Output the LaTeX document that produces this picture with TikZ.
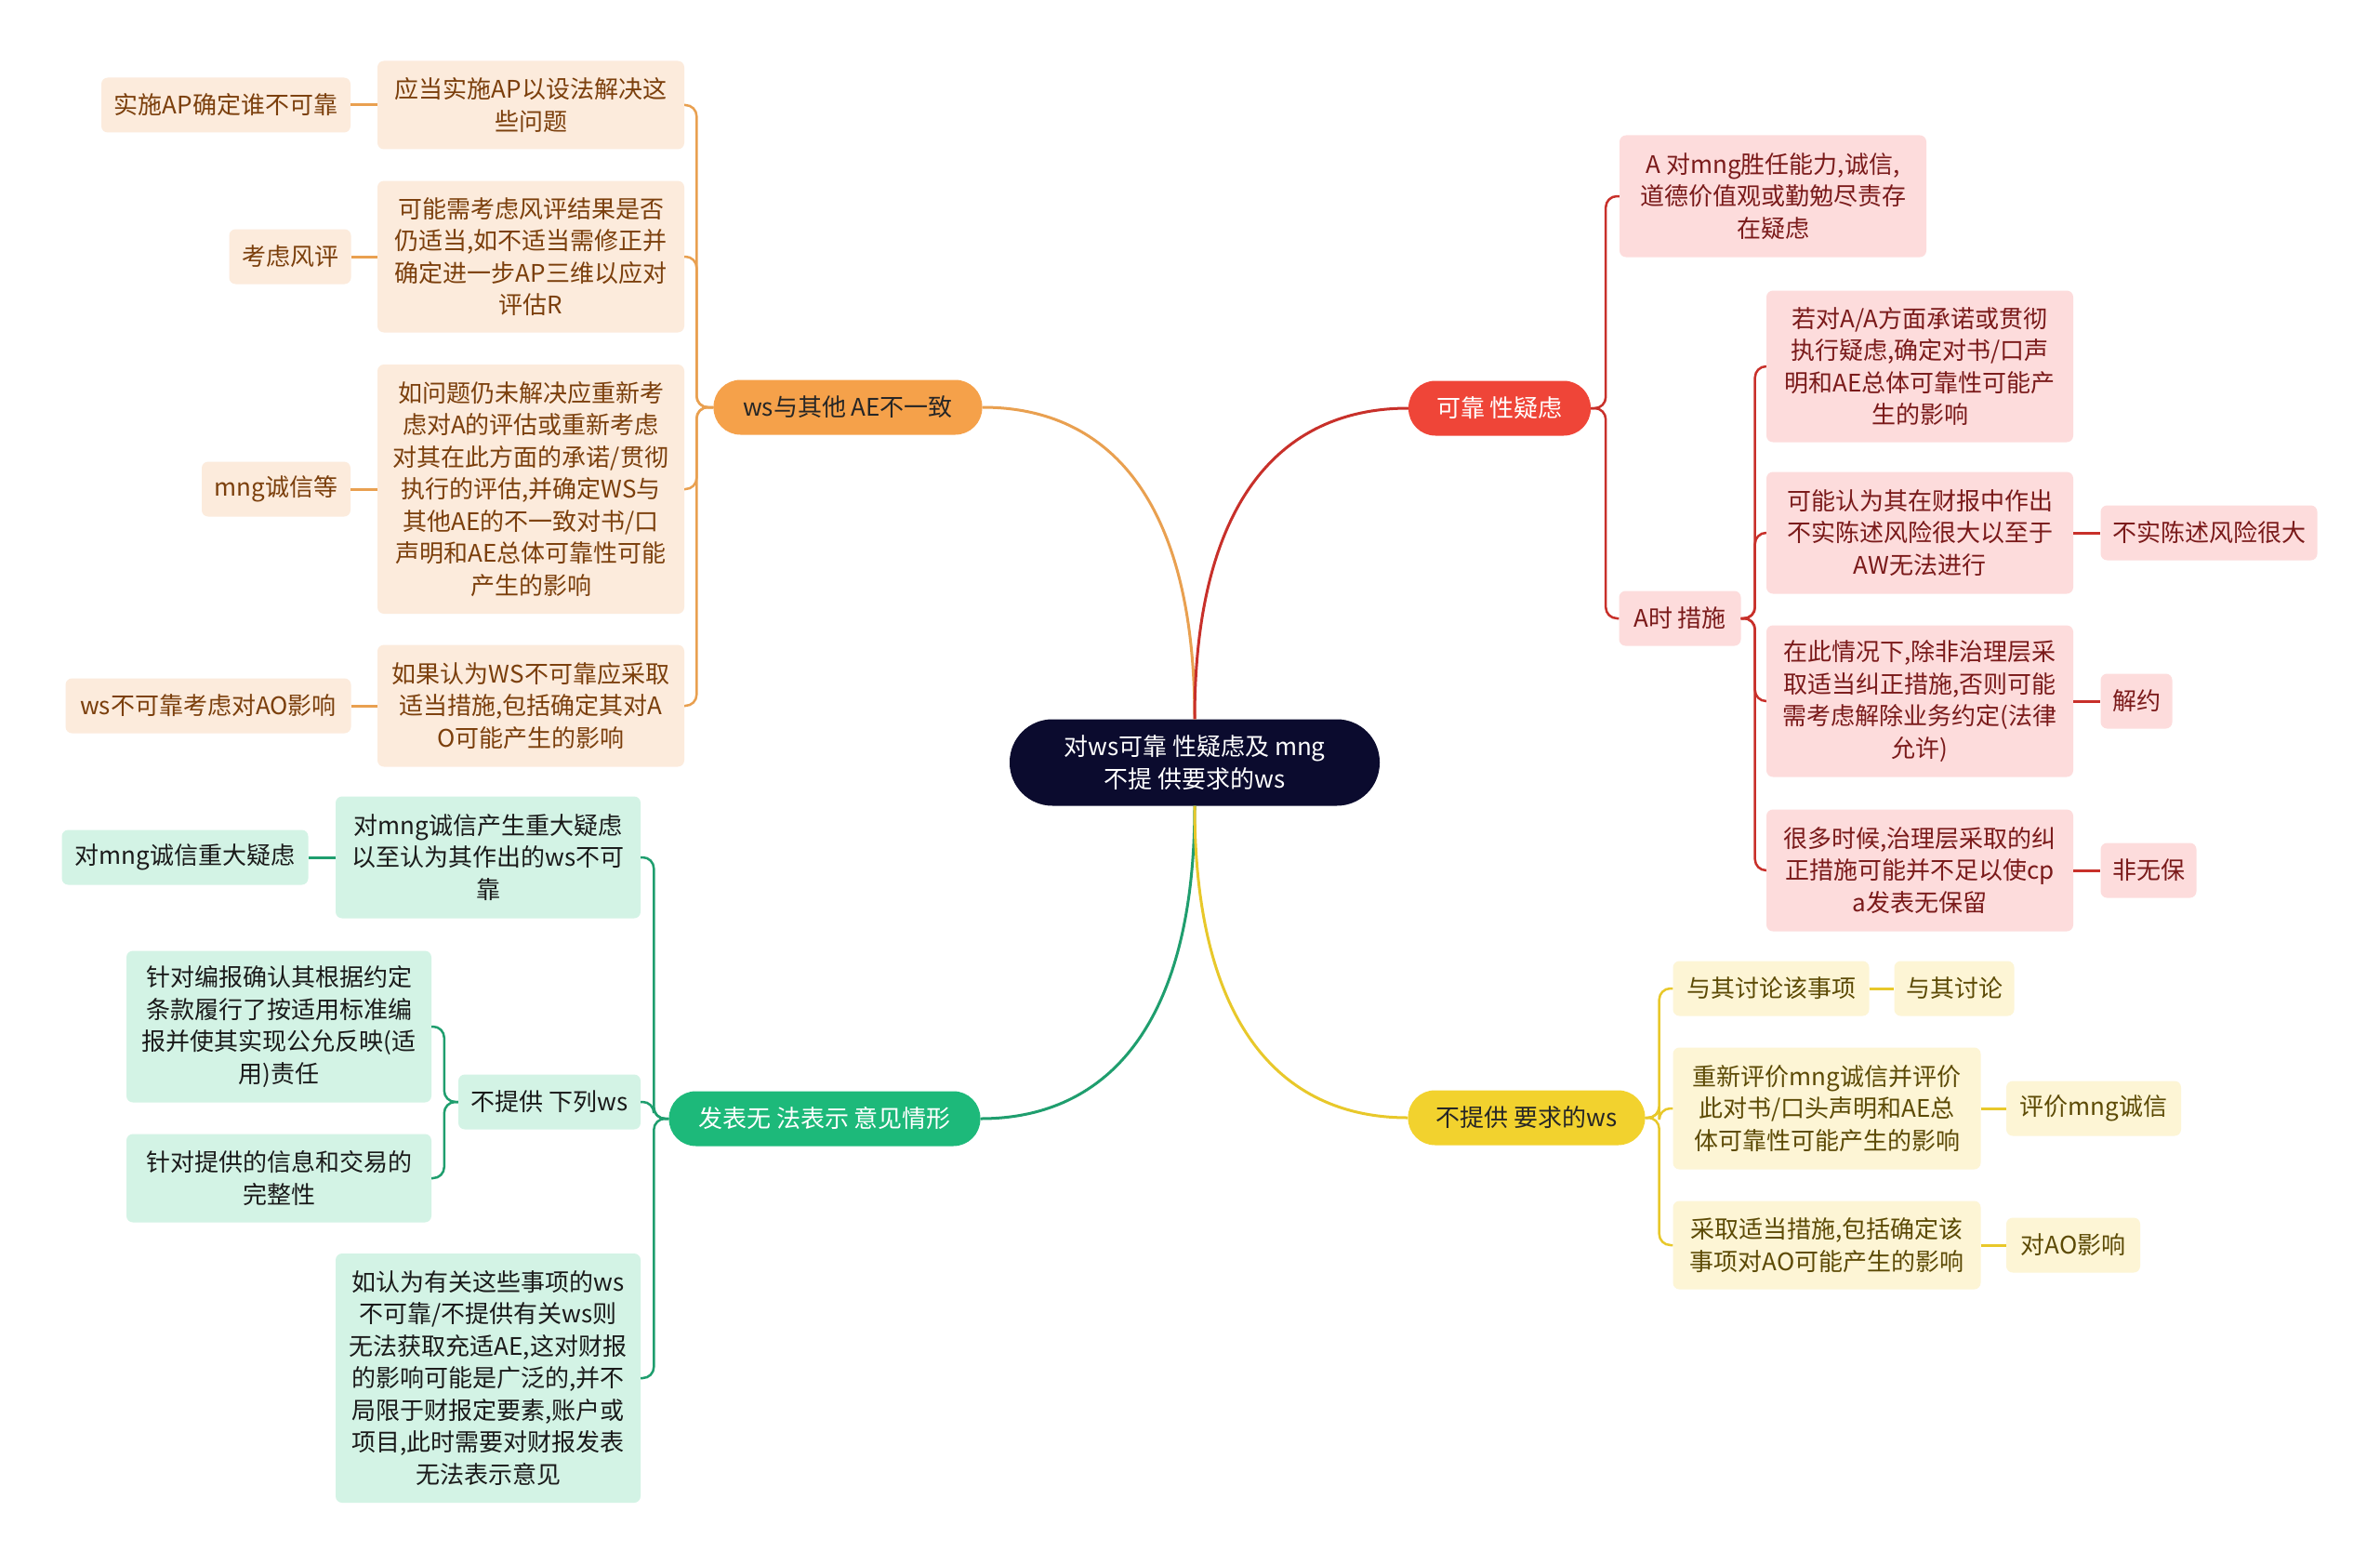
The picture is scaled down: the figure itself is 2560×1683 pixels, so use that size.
\documentclass[tikz,border=0pt]{standalone}
\usepackage{fontspec}
\usetikzlibrary{calc}
\newfontfamily\cjk{Noto Sans CJK SC}
\definecolor{navy}{HTML}{0B0B2E}
\definecolor{mainO}{HTML}{F5A14A}
\definecolor{mainR}{HTML}{EF4538}
\definecolor{mainG}{HTML}{1DB97A}
\definecolor{mainY}{HTML}{F2D22E}
\definecolor{fillO}{HTML}{FCEBDC}
\definecolor{fillR}{HTML}{FDDCDC}
\definecolor{fillG}{HTML}{D3F3E5}
\definecolor{fillY}{HTML}{FDF5D5}
\definecolor{txtO}{HTML}{7B3F0C}
\definecolor{txtR}{HTML}{7A1A1A}
\definecolor{txtG}{HTML}{1A1A1A}
\definecolor{txtY}{HTML}{5C4A05}
\definecolor{lineO}{HTML}{E9A050}
\definecolor{lineR}{HTML}{C8302A}
\definecolor{lineG}{HTML}{1F9E6E}
\definecolor{lineY}{HTML}{E8C82A}
\tikzset{
  base/.style={inner sep=0pt, align=center, font=\cjk\fontsize{26}{34.5}\selectfont},
  sz/.style 2 args={minimum width=#1pt, minimum height=#2pt},
  pill/.style={base, rounded corners=29pt},
  boxO/.style={base, fill=fillO, text=txtO, rounded corners=7pt},
  boxR/.style={base, fill=fillR, text=txtR, rounded corners=7pt},
  boxG/.style={base, fill=fillG, text=txtG, rounded corners=7pt},
  boxY/.style={base, fill=fillY, text=txtY, rounded corners=7pt},
  lO/.style={draw=lineO, line width=2.5pt, rounded corners=12pt},
  lR/.style={draw=lineR, line width=2.5pt, rounded corners=12pt},
  lG/.style={draw=lineG, line width=2.5pt, rounded corners=12pt},
  lY/.style={draw=lineY, line width=2.5pt, rounded corners=12pt},
  cO/.style={draw=lineO, line width=3pt},
  cR/.style={draw=lineR, line width=3pt},
  cG/.style={draw=lineG, line width=3pt},
  cY/.style={draw=lineY, line width=3pt},
}
\begin{document}
\begin{tikzpicture}[x=1pt,y=-1pt]
\fill[white] (0,0) rectangle (2560,1683);
\useasboundingbox (0,0) rectangle (2560,1683);

% center
\node[base, fill=navy, text=white, rounded corners=46pt, sz={398}{93}] (C) at (1285,820) {对ws可靠 性疑虑及 mng\\不提 供要求的ws};

% main branches
\node[pill, fill=mainO, text=black!85, sz={289}{59}] (O) at (912,438) {ws与其他 AE不一致};
\node[pill, fill=mainR, text=white, sz={196}{59}] (R) at (1613,439) {可靠 性疑虑};
\node[pill, fill=mainG, text=white, sz={335}{59}] (G) at (887,1203) {发表无 法表示 意见情形};
\node[pill, fill=mainY, text=black!85, sz={255}{59}] (Y) at (1642,1202) {不提供 要求的ws};

% orange children
\node[boxO, sz={330}{95}] (O1) at (571,113) {应当实施AP以设法解决这\\些问题};
\node[boxO, sz={268}{59}] (O1a) at (243,113) {实施AP确定谁不可靠};
\node[boxO, sz={330}{163}] (O2) at (571,276) {可能需考虑风评结果是否\\仍适当,如不适当需修正并\\确定进一步AP三维以应对\\评估R};
\node[boxO, sz={131}{59}] (O2a) at (312,276) {考虑风评};
\node[boxO, sz={330}{268}] (O3) at (571,526) {如问题仍未解决应重新考\\虑对A的评估或重新考虑\\对其在此方面的承诺/贯彻\\执行的评估,并确定WS与\\其他AE的不一致对书/口\\声明和AE总体可靠性可能\\产生的影响};
\node[boxO, sz={160}{59}] (O3a) at (297,526) {mng诚信等};
\node[boxO, sz={330}{131}] (O4) at (571,759) {如果认为WS不可靠应采取\\适当措施,包括确定其对A\\O可能产生的影响};
\node[boxO, sz={307}{59}] (O4a) at (224,759) {ws不可靠考虑对AO影响};

% red children
\node[boxR, sz={330}{131}] (R1) at (1907,211) {A 对mng胜任能力,诚信,\\道德价值观或勤勉尽责存\\在疑虑};
\node[boxR, sz={131}{59}] (R2) at (1807,665) {A时 措施};
\node[boxR, sz={330}{163}] (R2a) at (2065,394) {若对A/A方面承诺或贯彻\\执行疑虑,确定对书/口声\\明和AE总体可靠性可能产\\生的影响};
\node[boxR, sz={330}{131}] (R2b) at (2065,573) {可能认为其在财报中作出\\不实陈述风险很大以至于\\AW无法进行};
\node[boxR, sz={233}{59}] (R2b1) at (2376,573) {不实陈述风险很大};
\node[boxR, sz={330}{163}] (R2c) at (2065,754) {在此情况下,除非治理层采\\取适当纠正措施,否则可能\\需考虑解除业务约定(法律\\允许)};
\node[boxR, sz={77}{59}] (R2c1) at (2298,754) {解约};
\node[boxR, sz={330}{131}] (R2d) at (2065,936) {很多时候,治理层采取的纠\\正措施可能并不足以使cp\\a发表无保留};
\node[boxR, sz={103}{59}] (R2d1) at (2311,936) {非无保};

% yellow children
\node[boxY, sz={211}{59}] (Y1) at (1905,1063) {与其讨论该事项};
\node[boxY, sz={129}{59}] (Y1a) at (2102,1063) {与其讨论};
\node[boxY, sz={331}{131}] (Y2) at (1965,1192) {重新评价mng诚信并评价\\此对书/口头声明和AE总\\体可靠性可能产生的影响};
\node[boxY, sz={188}{59}] (Y2a) at (2252,1192) {评价mng诚信};
\node[boxY, sz={331}{95}] (Y3) at (1965,1339) {采取适当措施,包括确定该\\事项对AO可能产生的影响};
\node[boxY, sz={144}{59}] (Y3a) at (2230,1339) {对AO影响};

% green children
\node[boxG, sz={328}{131}] (G1) at (525,922) {对mng诚信产生重大疑虑\\以至认为其作出的ws不可\\靠};
\node[boxG, sz={265}{59}] (G1a) at (199,922) {对mng诚信重大疑虑};
\node[boxG, sz={196}{59}] (G2) at (591,1185) {不提供 下列ws};
\node[boxG, sz={328}{163}] (G2a) at (300,1104) {针对编报确认其根据约定\\条款履行了按适用标准编\\报并使其实现公允反映(适\\用)责任};
\node[boxG, sz={328}{95}] (G2b) at (300,1267) {针对提供的信息和交易的\\完整性};
\node[boxG, sz={328}{268}] (G3) at (525,1482) {如认为有关这些事项的ws\\不可靠/不提供有关ws则\\无法获取充适AE,这对财报\\的影响可能是广泛的,并不\\局限于财报定要素,账户或\\项目,此时需要对财报发表\\无法表示意见};

% center curves
\draw[cO] (C.north) .. controls ++(0,-230) and ($(O.east)+(140,0)$) .. (O.east);
\draw[cR] (C.north) .. controls ++(0,-230) and ($(R.west)+(-140,0)$) .. (R.west);
\draw[cG] (C.south) .. controls ++(0,230) and ($(G.east)+(140,0)$) .. (G.east);
\draw[cY] (C.south) .. controls ++(0,230) and ($(Y.west)+(-140,0)$) .. (Y.west);

% orange connectors
\foreach \c in {O1,O2,O3,O4} \draw[lO] (O.west) -- ++(-18,0) |- (\c.east);
\draw[cO] (O1.west) -- (O1a.east);
\draw[cO] (O2.west) -- (O2a.east);
\draw[cO] (O3.west) -- (O3a.east);
\draw[cO] (O4.west) -- (O4a.east);

% red connectors
\foreach \c in {R1,R2} \draw[lR] (R.east) -- ++(16,0) |- (\c.west);
\foreach \c in {R2a,R2b,R2c,R2d} \draw[lR] (R2.east) -- ++(15,0) |- (\c.west);
\draw[cR] (R2b.east) -- (R2b1.west);
\draw[cR] (R2c.east) -- (R2c1.west);
\draw[cR] (R2d.east) -- (R2d1.west);

% yellow connectors
\foreach \c in {Y1,Y2,Y3} \draw[lY] (Y.east) -- ++(15,0) |- (\c.west);
\draw[cY] (Y1.east) -- (Y1a.west);
\draw[cY] (Y2.east) -- (Y2a.west);
\draw[cY] (Y3.east) -- (Y3a.west);

% green connectors
\foreach \c in {G1,G2,G3} \draw[lG] (G.west) -- ++(-16,0) |- (\c.east);
\foreach \c in {G2a,G2b} \draw[lG] (G2.west) -- ++(-15,0) |- (\c.east);
\draw[cG] (G1.west) -- (G1a.east);
\end{tikzpicture}
\end{document}
